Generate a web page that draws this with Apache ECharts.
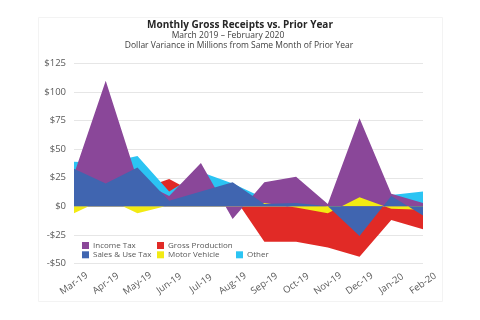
<!DOCTYPE html>
<html>
<head>
<meta charset="utf-8">
<script src="https://cdn.jsdelivr.net/npm/echarts@6/dist/echarts.min.js"></script>
<style>
  html, body { margin: 0; padding: 0; background: #fff; }
  #chart { width: 480px; height: 320px; }
</style>
</head>
<body>
<div id="chart"></div>
<script>
const months = ["Mar-19", "Apr-19", "May-19", "Jun-19", "Jul-19", "Aug-19", "Sep-19", "Oct-19", "Nov-19", "Dec-19", "Jan-20", "Feb-20"];
const incomeTax = [28, 110, 23, 9, 38, -11, 21, 26, 2, 77, 11, 3];
const salesUseTax = [33, 20, 34, 5, 13, 21, 2, 3, 0, -26, 9, -8];
const grossProduction = [10, 12, 14, 24, 9, 10, -31, -31, -36, -44, -12, -20];
const motorVehicle = [-6, 7, -6, 1, 1, 2, 3, -1, -6, 8, -2, -3];
const other = [39, 38, 44, 13, 30, 20, 7, 4, 1, 5, 10, 13];

const FONT = "'Open Sans', sans-serif";
const colors = {
  "Income Tax": "#8a4799",
  "Sales & Use Tax": "#4065b0",
  "Gross Production": "#e12a26",
  "Motor Vehicle": "#f2ea13",
  "Other": "#2bc4f3",
};

// drawing order: back to front
const seriesDefs = [
  ["Gross Production", grossProduction],
  ["Other", other],
  ["Income Tax", incomeTax],
  ["Motor Vehicle", motorVehicle],
  ["Sales & Use Tax", salesUseTax],
];

function legendAt(name, left, top) {
  return {
    data: [name],
    left: left,
    top: top,
    padding: 0,
    icon: "rect",
    itemWidth: 7,
    itemHeight: 7,
    itemGap: 0,
    selectedMode: false,
    textStyle: { fontFamily: FONT, fontSize: 8, color: "#595959", lineHeight: 10, padding: [0, 0, 0, -1] },
  };
}

const chart = echarts.init(document.getElementById("chart"), null, { renderer: "canvas" });

chart.setOption({
  animation: false,
  graphic: [
    {
      type: "rect",
      shape: { x: 38.5, y: 17.5, width: 404, height: 284 },
      style: { fill: "none", stroke: "#f3f3f3", lineWidth: 1 },
      silent: true,
    },
    {
      type: "text", x: 240, y: 25,
      style: { text: "Monthly Gross Receipts vs. Prior Year", fontFamily: FONT, fontWeight: "bold", fontSize: 10, fill: "#262626", align: "center", verticalAlign: "middle" },
    },
    {
      type: "text", x: 228, y: 36,
      style: { text: "March 2019 \u2013 February 2020", fontFamily: FONT, fontSize: 8.5, fill: "#404040", align: "center", verticalAlign: "middle" },
    },
    {
      type: "text", x: 239, y: 46,
      style: { text: "Dollar Variance in Millions from Same Month of Prior Year", fontFamily: FONT, fontSize: 8.5, fill: "#404040", align: "center", verticalAlign: "middle" },
    },
  ],
  legend: [
    legendAt("Income Tax", 82, 240.5),
    legendAt("Sales & Use Tax", 82, 249.8),
    legendAt("Gross Production", 157, 240.5),
    legendAt("Motor Vehicle", 157, 249.8),
    legendAt("Other", 236, 249.8),
  ],
  grid: { left: 74, right: 57, top: 63.5, bottom: 56.5, containLabel: false },
  xAxis: {
    type: "category",
    data: months,
    boundaryGap: false,
    axisLine: { show: false, onZero: false },
    axisTick: { show: false },
    splitLine: { show: false },
    axisLabel: {
      rotate: 35,
      align: "center",
      verticalAlign: "middle",
      margin: 20,
      interval: 0,
      fontFamily: FONT,
      fontSize: 9.5,
      color: "#595959",
    },
  },
  yAxis: {
    type: "value",
    min: -50,
    max: 125,
    interval: 25,
    axisLine: { show: false },
    axisTick: { show: false },
    splitLine: { show: true, lineStyle: { color: "#e6e6e6", width: 1 } },
    axisLabel: {
      margin: 8,
      fontFamily: FONT,
      fontSize: 9.5,
      color: "#595959",
      formatter: function (v) {
        return v < 0 ? "-$" + (-v) : "$" + v;
      },
    },
  },
  series: seriesDefs.map(function (d, i) {
    return {
      name: d[0],
      type: "line",
      data: d[1],
      z: 2 + i,
      symbol: "none",
      color: colors[d[0]],
      lineStyle: { width: 0 },
      areaStyle: { color: colors[d[0]], opacity: 1, origin: 0 },
    };
  }),
});
</script>
</body>
</html>
